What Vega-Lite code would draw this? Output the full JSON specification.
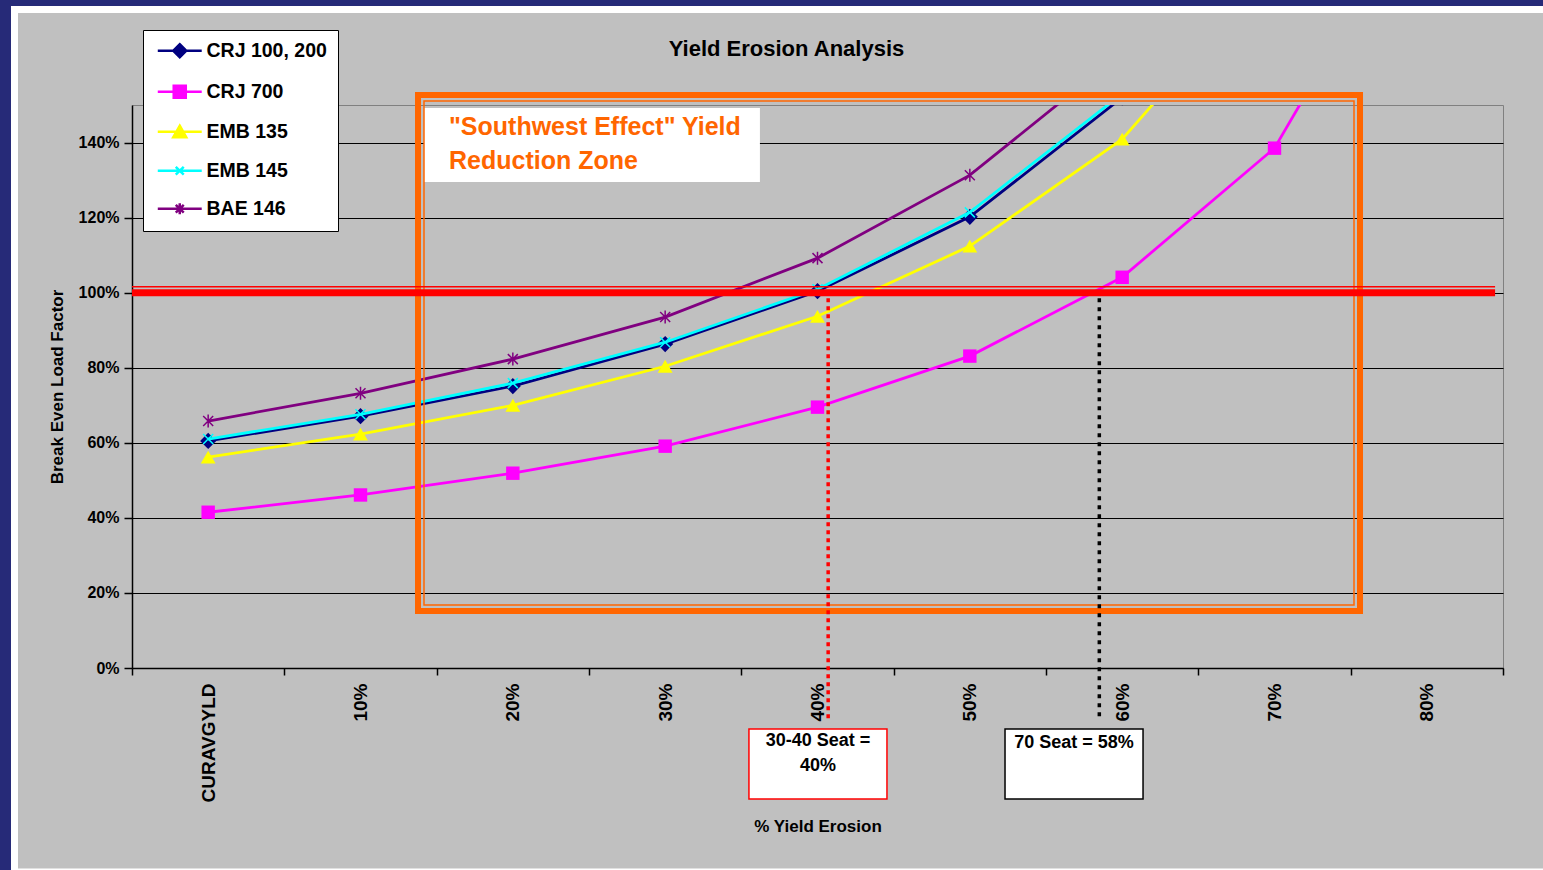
{
  "$schema": "https://vega.github.io/schema/vega-lite/v6.json",
  "width": 1371,
  "height": 563,
  "autosize": {"type": "none"},
  "padding": {"left": 132, "top": 105, "right": 40, "bottom": 202},
  "background": "#C0C0C0",
  "title": {
    "text": "Yield Erosion Analysis",
    "font": "Liberation Sans",
    "fontSize": 22,
    "fontWeight": "bold",
    "color": "black",
    "anchor": "middle",
    "frame": "group",
    "dx": -31,
    "offset": -77
  },
  "datasets": {
    "lf": [
      {"series": "CRJ 100, 200", "erosion": "CURAVGYLD", "lf": 0.605},
      {"series": "CRJ 100, 200", "erosion": "10%", "lf": 0.671},
      {"series": "CRJ 100, 200", "erosion": "20%", "lf": 0.751},
      {"series": "CRJ 100, 200", "erosion": "30%", "lf": 0.863},
      {"series": "CRJ 100, 200", "erosion": "40%", "lf": 1.004},
      {"series": "CRJ 100, 200", "erosion": "50%", "lf": 1.202},
      {"series": "CRJ 100, 200", "erosion": "60%", "lf": 1.52},
      {"series": "CRJ 700", "erosion": "CURAVGYLD", "lf": 0.415},
      {"series": "CRJ 700", "erosion": "10%", "lf": 0.461},
      {"series": "CRJ 700", "erosion": "20%", "lf": 0.519},
      {"series": "CRJ 700", "erosion": "30%", "lf": 0.591},
      {"series": "CRJ 700", "erosion": "40%", "lf": 0.695},
      {"series": "CRJ 700", "erosion": "50%", "lf": 0.831},
      {"series": "CRJ 700", "erosion": "60%", "lf": 1.041},
      {"series": "CRJ 700", "erosion": "70%", "lf": 1.385},
      {"series": "CRJ 700", "erosion": "80%", "lf": 2.08},
      {"series": "EMB 135", "erosion": "CURAVGYLD", "lf": 0.562},
      {"series": "EMB 135", "erosion": "10%", "lf": 0.623},
      {"series": "EMB 135", "erosion": "20%", "lf": 0.700},
      {"series": "EMB 135", "erosion": "30%", "lf": 0.804},
      {"series": "EMB 135", "erosion": "40%", "lf": 0.937},
      {"series": "EMB 135", "erosion": "50%", "lf": 1.124},
      {"series": "EMB 135", "erosion": "60%", "lf": 1.409},
      {"series": "EMB 135", "erosion": "70%", "lf": 1.87},
      {"series": "EMB 145", "erosion": "CURAVGYLD", "lf": 0.610},
      {"series": "EMB 145", "erosion": "10%", "lf": 0.676},
      {"series": "EMB 145", "erosion": "20%", "lf": 0.759},
      {"series": "EMB 145", "erosion": "30%", "lf": 0.868},
      {"series": "EMB 145", "erosion": "40%", "lf": 1.009},
      {"series": "EMB 145", "erosion": "50%", "lf": 1.214},
      {"series": "EMB 145", "erosion": "60%", "lf": 1.53},
      {"series": "BAE 146", "erosion": "CURAVGYLD", "lf": 0.658},
      {"series": "BAE 146", "erosion": "10%", "lf": 0.732},
      {"series": "BAE 146", "erosion": "20%", "lf": 0.823},
      {"series": "BAE 146", "erosion": "30%", "lf": 0.935},
      {"series": "BAE 146", "erosion": "40%", "lf": 1.092},
      {"series": "BAE 146", "erosion": "50%", "lf": 1.313},
      {"series": "BAE 146", "erosion": "60%", "lf": 1.64}
    ]
  },
  "resolve": {"scale": {"x": "independent"}},
  "layer": [
    {
      "data": {"name": "lf"},
      "transform": [{"filter": {"field": "series", "equal": "CRJ 100, 200"}}],
      "layer": [
        {
          "mark": {"type": "line", "strokeWidth": 2.8, "color": "#000080", "clip": true},
          "encoding": {
            "x": {
              "field": "erosion", "type": "ordinal",
              "scale": {"type": "band", "domain": ["CURAVGYLD", "10%", "20%", "30%", "40%", "50%", "60%", "70%", "80%"], "paddingInner": 0, "paddingOuter": 0},
              "axis": {
                "title": "% Yield Erosion", "titleFont": "Liberation Sans", "titleFontSize": 17, "titleFontWeight": "bold", "titleColor": "black", "titlePadding": 17,
                "labelAngle": 270, "labelFont": "Liberation Sans", "labelFontSize": 19, "labelFontWeight": "bold", "labelColor": "black", "labelPadding": 8,
                "tickBand": "extent", "tickSize": 7, "tickColor": "black", "tickWidth": 1.5, "domainColor": "black", "domainWidth": 1.5, "grid": false, "labelOverlap": false
              }
            },
            "y": {
              "field": "lf", "type": "quantitative",
              "scale": {"domain": [0, 1.5], "nice": false},
              "axis": {
                "title": "Break Even Load Factor", "titleFont": "Liberation Sans", "titleFontSize": 17, "titleFontWeight": "bold", "titleColor": "black", "titlePadding": 12,
                "values": [0, 0.2, 0.4, 0.6, 0.8, 1, 1.2, 1.4], "format": ".0%",
                "labelFont": "Liberation Sans", "labelFontSize": 16, "labelFontWeight": "bold", "labelColor": "black", "labelPadding": 5,
                "tickSize": 8, "tickColor": "black", "tickWidth": 1.5, "domainColor": "black", "domainWidth": 1.5, "grid": true, "gridColor": "black", "gridWidth": 1
              }
            },
            "order": {"value": null}
          }
        },
        {
          "mark": {"type": "point", "shape": "diamond", "filled": true, "color": "#000080", "size": 260, "opacity": 1, "clip": true},
          "encoding": {
            "x": {"field": "erosion", "type": "ordinal"},
            "y": {"field": "lf", "type": "quantitative"}
          }
        }
      ]
    },
    {
      "data": {"name": "lf"},
      "transform": [{"filter": {"field": "series", "equal": "CRJ 700"}}],
      "layer": [
        {
          "mark": {"type": "line", "strokeWidth": 2.8, "color": "#FF00FF", "clip": true},
          "encoding": {
            "x": {"field": "erosion", "type": "ordinal", "scale": {"type": "band", "domain": ["CURAVGYLD", "10%", "20%", "30%", "40%", "50%", "60%", "70%", "80%"], "paddingInner": 0, "paddingOuter": 0}, "axis": null},
            "y": {"field": "lf", "type": "quantitative"},
            "order": {"value": null}
          }
        },
        {
          "mark": {"type": "point", "shape": "square", "filled": true, "color": "#FF00FF", "size": 180, "opacity": 1, "clip": true},
          "encoding": {
            "x": {"field": "erosion", "type": "ordinal", "axis": null},
            "y": {"field": "lf", "type": "quantitative"}
          }
        }
      ]
    },
    {
      "data": {"name": "lf"},
      "transform": [{"filter": {"field": "series", "equal": "EMB 135"}}],
      "layer": [
        {
          "mark": {"type": "line", "strokeWidth": 2.8, "color": "#FFFF00", "clip": true},
          "encoding": {
            "x": {"field": "erosion", "type": "ordinal", "scale": {"type": "band", "domain": ["CURAVGYLD", "10%", "20%", "30%", "40%", "50%", "60%", "70%", "80%"], "paddingInner": 0, "paddingOuter": 0}, "axis": null},
            "y": {"field": "lf", "type": "quantitative"},
            "order": {"value": null}
          }
        },
        {
          "mark": {"type": "point", "shape": "triangle-up", "filled": true, "color": "#FFFF00", "size": 220, "opacity": 1, "clip": true},
          "encoding": {
            "x": {"field": "erosion", "type": "ordinal", "axis": null},
            "y": {"field": "lf", "type": "quantitative"}
          }
        }
      ]
    },
    {
      "data": {"name": "lf"},
      "transform": [{"filter": {"field": "series", "equal": "EMB 145"}}],
      "layer": [
        {
          "mark": {"type": "line", "strokeWidth": 2.8, "color": "#00FFFF", "clip": true},
          "encoding": {
            "x": {"field": "erosion", "type": "ordinal", "scale": {"type": "band", "domain": ["CURAVGYLD", "10%", "20%", "30%", "40%", "50%", "60%", "70%", "80%"], "paddingInner": 0, "paddingOuter": 0}, "axis": null},
            "y": {"field": "lf", "type": "quantitative"},
            "order": {"value": null}
          }
        },
        {
          "mark": {"type": "point", "shape": "M-1,-1L1,1M-1,1L1,-1", "filled": false, "color": "#00FFFF", "size": 100, "strokeWidth": 1.5, "opacity": 1, "clip": true},
          "encoding": {
            "x": {"field": "erosion", "type": "ordinal", "axis": null},
            "y": {"field": "lf", "type": "quantitative"}
          }
        }
      ]
    },
    {
      "data": {"name": "lf"},
      "transform": [{"filter": {"field": "series", "equal": "BAE 146"}}],
      "layer": [
        {
          "mark": {"type": "line", "strokeWidth": 2.8, "color": "#800080", "clip": true},
          "encoding": {
            "x": {"field": "erosion", "type": "ordinal", "scale": {"type": "band", "domain": ["CURAVGYLD", "10%", "20%", "30%", "40%", "50%", "60%", "70%", "80%"], "paddingInner": 0, "paddingOuter": 0}, "axis": null},
            "y": {"field": "lf", "type": "quantitative"},
            "order": {"value": null}
          }
        },
        {
          "mark": {"type": "point", "shape": "M-1,-1L1,1M-1,1L1,-1M0,-1.3V1.3", "filled": false, "color": "#800080", "size": 100, "strokeWidth": 1.5, "opacity": 1, "clip": true},
          "encoding": {
            "x": {"field": "erosion", "type": "ordinal", "axis": null},
            "y": {"field": "lf", "type": "quantitative"}
          }
        }
      ]
    },
    {
      "data": {"name": "lf"},
      "transform": [{"filter": "false"}],
      "mark": {"type": "point", "filled": true, "opacity": 1, "strokeWidth": 2.5},
      "encoding": {
        "shape": {
          "field": "series", "type": "nominal", "title": null,
          "scale": {
            "domain": ["CRJ 100, 200", "CRJ 700", "EMB 135", "EMB 145", "BAE 146"],
            "range": [
              "M-0.854,0H5.426M2.286,-0.93L3.216,0L2.286,0.93L1.356,0Z",
              "M-0.854,0H5.426M1.426,-0.86H3.146V0.86H1.426Z",
              "M-0.854,0H5.426M2.286,-0.86L3.216,0.79H1.356Z",
              "M-0.854,0H5.426M1.716,-0.57L2.856,0.57M1.716,0.57L2.856,-0.57",
              "M-0.854,0H5.426M1.716,-0.57L2.856,0.57M1.716,0.57L2.856,-0.57M2.286,-0.8V0.8"
            ]
          }
        },
        "fill": {
          "field": "series", "type": "nominal", "title": null,
          "scale": {"domain": ["CRJ 100, 200", "CRJ 700", "EMB 135", "EMB 145", "BAE 146"], "range": ["#000080", "#FF00FF", "#FFFF00", "#00FFFF", "#800080"]}
        },
        "stroke": {
          "field": "series", "type": "nominal", "title": null,
          "scale": {"domain": ["CRJ 100, 200", "CRJ 700", "EMB 135", "EMB 145", "BAE 146"], "range": ["#000080", "#FF00FF", "#FFFF00", "#00FFFF", "#800080"]}
        }
      }
    },
    {
      "data": {"values": [{}]},
      "layer": [
        {
          "mark": {"type": "rect", "fill": "white", "clip": false},
          "encoding": {
            "x": {"datum": 14.168, "type": "quantitative", "scale": {"domain": [-5, 85], "nice": false, "zero": false}, "axis": null},
            "x2": {"datum": 36.22},
            "y": {"datum": 1.492, "type": "quantitative"},
            "y2": {"datum": 1.295}
          }
        },
        {
          "mark": {"type": "rect", "fill": "transparent", "stroke": "#FF6600", "strokeWidth": 6, "clip": false},
          "encoding": {
            "x": {"datum": 13.775, "type": "quantitative"},
            "x2": {"datum": 75.613},
            "y": {"datum": 1.5266, "type": "quantitative"},
            "y2": {"datum": 0.1519}
          }
        },
        {
          "mark": {"type": "rect", "fill": "transparent", "stroke": "#FF6600", "strokeWidth": 1.5, "clip": false},
          "encoding": {
            "x": {"datum": 14.168, "type": "quantitative"},
            "x2": {"datum": 75.219},
            "y": {"datum": 1.5107, "type": "quantitative"},
            "y2": {"datum": 0.1679}
          }
        },
        {
          "mark": {"type": "text", "align": "left", "baseline": "middle", "font": "Liberation Sans", "fontSize": 25, "fontWeight": "bold", "color": "#FF6600", "lineHeight": 34, "clip": false},
          "encoding": {
            "x": {"datum": 15.81, "type": "quantitative"},
            "y": {"datum": 1.4414, "type": "quantitative"},
            "text": {"value": ["\"Southwest Effect\" Yield", "Reduction Zone"]}
          }
        },
        {
          "mark": {"type": "rule", "color": "#FF0000", "strokeWidth": 1.5, "clip": false},
          "encoding": {
            "x": {"datum": -5, "type": "quantitative"},
            "x2": {"datum": 84.48},
            "y": {"datum": 1.016, "type": "quantitative"}
          }
        },
        {
          "mark": {"type": "rule", "color": "#FF0000", "strokeWidth": 7, "clip": false},
          "encoding": {
            "x": {"datum": -5, "type": "quantitative"},
            "x2": {"datum": 84.48},
            "y": {"datum": 1.0, "type": "quantitative"}
          }
        },
        {
          "mark": {"type": "rule", "color": "#FF0000", "strokeWidth": 3.5, "strokeDash": [4, 4], "clip": false},
          "encoding": {
            "x": {"datum": 40.7, "type": "quantitative"},
            "y": {"datum": 0.985, "type": "quantitative"},
            "y2": {"datum": -0.1385}
          }
        },
        {
          "mark": {"type": "rule", "color": "black", "strokeWidth": 3.5, "strokeDash": [4, 5], "clip": false},
          "encoding": {
            "x": {"datum": 58.5, "type": "quantitative"},
            "y": {"datum": 0.985, "type": "quantitative"},
            "y2": {"datum": -0.1385}
          }
        },
        {
          "mark": {"type": "rect", "fill": "white", "stroke": "#FF0000", "strokeWidth": 1.5, "clip": false},
          "encoding": {
            "x": {"datum": 35.5, "type": "quantitative"},
            "x2": {"datum": 44.56},
            "y": {"datum": -0.1625, "type": "quantitative"},
            "y2": {"datum": -0.349}
          }
        },
        {
          "mark": {"type": "rect", "fill": "white", "stroke": "black", "strokeWidth": 1.5, "clip": false},
          "encoding": {
            "x": {"datum": 52.31, "type": "quantitative"},
            "x2": {"datum": 61.37},
            "y": {"datum": -0.1625, "type": "quantitative"},
            "y2": {"datum": -0.349}
          }
        },
        {
          "mark": {"type": "text", "align": "center", "baseline": "middle", "font": "Liberation Sans", "fontSize": 18, "fontWeight": "bold", "color": "black", "lineHeight": 25, "clip": false},
          "encoding": {
            "x": {"datum": 40.03, "type": "quantitative"},
            "y": {"datum": -0.1945, "type": "quantitative"},
            "text": {"value": ["30-40 Seat =", "40%"]}
          }
        },
        {
          "mark": {"type": "text", "align": "center", "baseline": "middle", "font": "Liberation Sans", "fontSize": 18, "fontWeight": "bold", "color": "black", "clip": false},
          "encoding": {
            "x": {"datum": 56.84, "type": "quantitative"},
            "y": {"datum": -0.1997, "type": "quantitative"},
            "text": {"value": "70 Seat = 58%"}
          }
        },
        {
          "mark": {"type": "rect", "fill": "transparent", "stroke": "white", "strokeWidth": 7, "clip": false},
          "encoding": {
            "x": {"datum": -12.713, "type": "quantitative"},
            "x2": {"datum": 90.05},
            "y": {"datum": 1.7545, "type": "quantitative"},
            "y2": {"datum": -0.5435}
          }
        },
        {
          "mark": {"type": "rect", "fill": "transparent", "stroke": "#262A78", "strokeWidth": 22, "clip": false},
          "encoding": {
            "x": {"datum": -13.665, "type": "quantitative"},
            "x2": {"datum": 95},
            "y": {"datum": 1.7931, "type": "quantitative"},
            "y2": {"datum": -0.618}
          }
        }
      ]
    }
  ],
  "config": {
    "font": "Liberation Sans",
    "view": {"fill": "white", "stroke": "#808080", "strokeWidth": 1},
    "legend": {
      "orient": "none",
      "legendX": 11,
      "legendY": -75,
      "fillColor": "white",
      "strokeColor": "black",
      "padding": 11,
      "labelFont": "Liberation Sans",
      "labelFontSize": 19.5,
      "labelFontWeight": "bold",
      "labelColor": "black",
      "labelLimit": 400,
      "symbolSize": 196,
      "symbolStrokeWidth": 2.5,
      "symbolOpacity": 1,
      "labelOffset": 33,
      "rowPadding": 17
    }
  }
}
